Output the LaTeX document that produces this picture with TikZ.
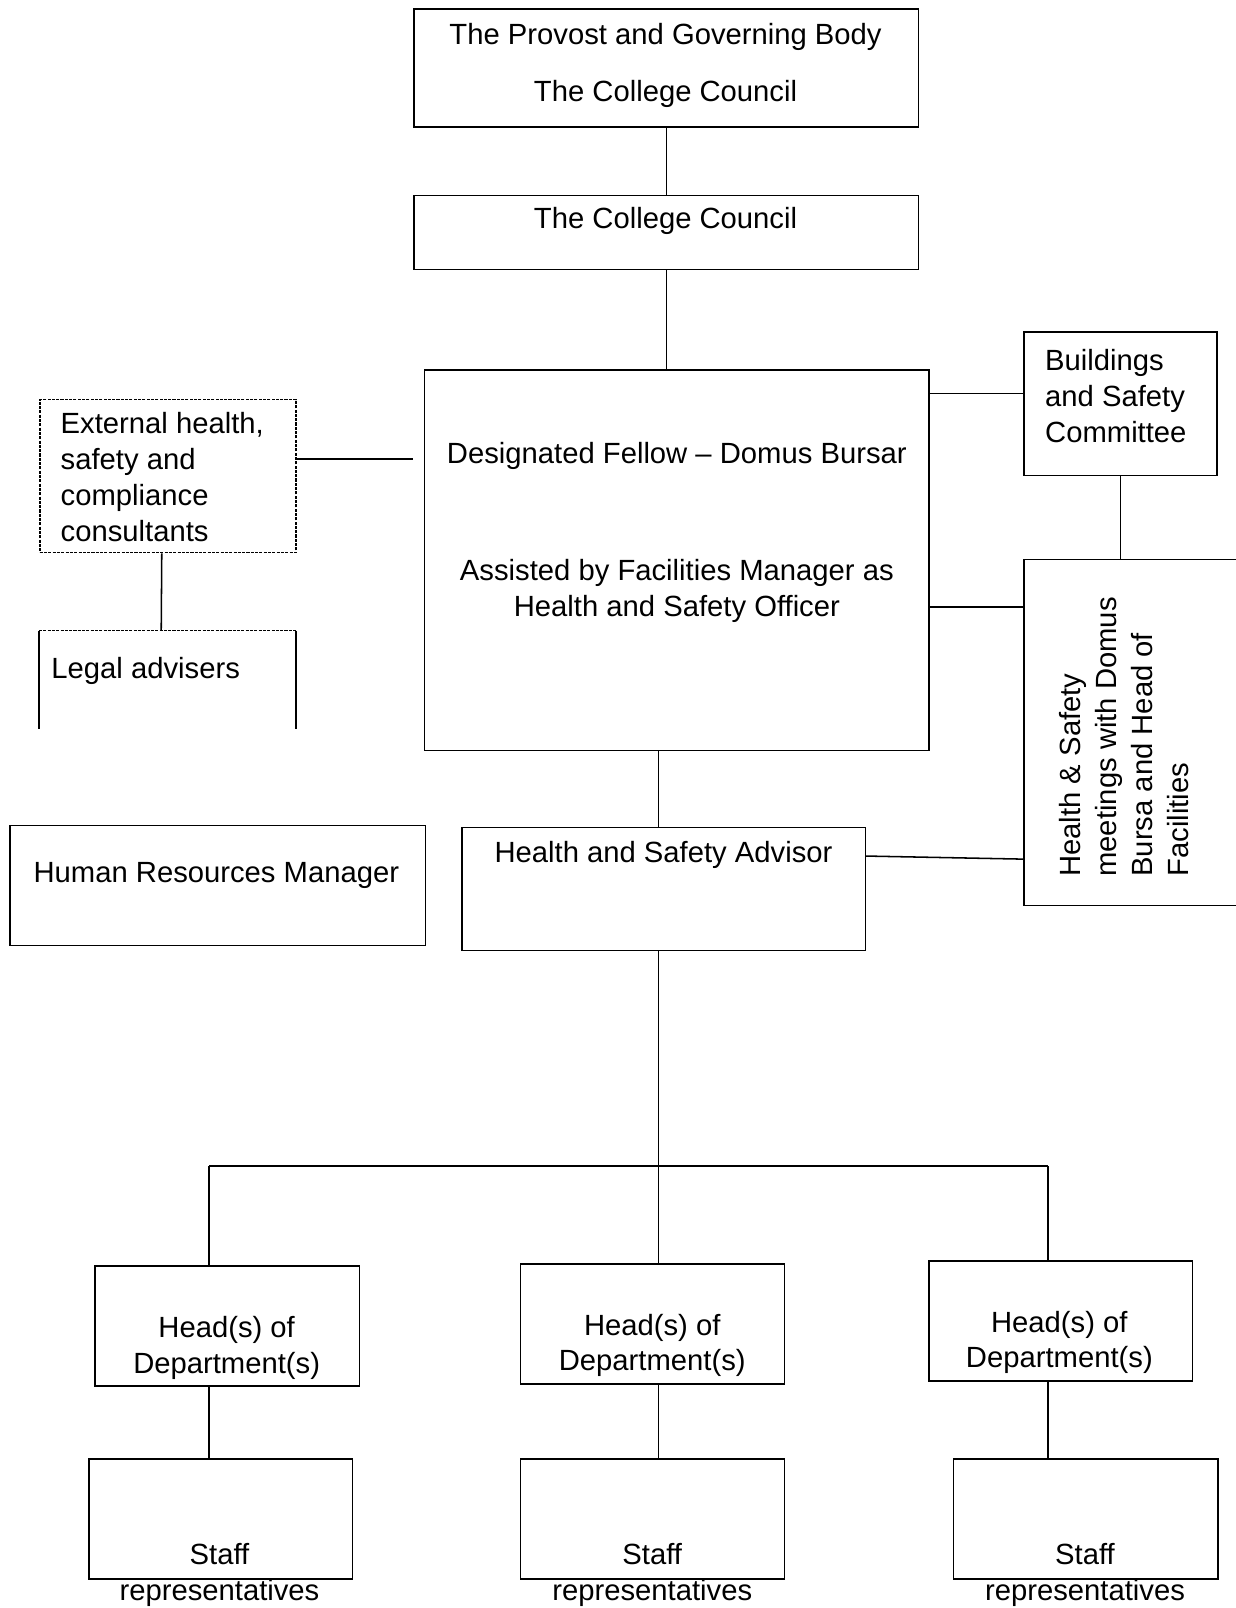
\documentclass[tikz,border=0pt]{standalone}
\usepackage{fontspec}
\setmainfont{Liberation Sans}
\usetikzlibrary{positioning}

\begin{document}
\begin{tikzpicture}[x=1pt,y=-1pt,
  box/.style={draw,line width=1.5pt,inner sep=0pt,anchor=north west},
  dotbox/.style={box,dash pattern=on 3pt off 1.2pt},
  txt/.style={inner sep=0pt,align=center},
  link/.style={line width=1.5pt}]
\fontsize{28.5}{35}\selectfont
\useasboundingbox (0,0) rectangle (1205,1568);

% boxes
\node[box,minimum width=492pt,minimum height=115pt] (prov) at (403,8) {};
\node[box,minimum width=492pt,minimum height=72pt] (council) at (403,190) {};
\node[box,minimum width=492pt,minimum height=371pt] (fellow) at (413,360) {};
\node[dotbox,minimum width=250pt,minimum height=149pt] (ext) at (38,389) {};
\node[inner sep=0pt,anchor=north west,minimum width=250pt,minimum height=95pt] (legal) at (38,615) {};
\node[box,minimum width=188pt,minimum height=140pt] (bsc) at (998,323) {};
\node[box,minimum width=220pt,minimum height=337pt] (hsm) at (998,545) {};
\node[box,minimum width=393pt,minimum height=120pt] (hsa) at (450,806) {};
\node[box,minimum width=405pt,minimum height=117pt] (hr) at (9,804) {};
\node[box,minimum width=258pt,minimum height=117pt] (hod1) at (92,1234) {};
\node[box,minimum width=257pt,minimum height=117pt] (hod2) at (507,1232) {};
\node[box,minimum width=257pt,minimum height=117pt] (hod3) at (905,1229) {};
\node[box,minimum width=257pt,minimum height=117pt] (staff1) at (86,1422) {};
\node[box,minimum width=257pt,minimum height=117pt] (staff2) at (507,1422) {};
\node[box,minimum width=258pt,minimum height=117pt] (staff3) at (929,1422) {};

% texts
\node[txt] (provT) at (649,64) {The Provost and Governing Body\\[21pt]The College Council};
\node[txt] (councilT) at (649,215) {The College Council};
\node[txt] (fellowT1) at (660,445) {Designated Fellow \textendash{} Domus Bursar};
\node[txt] (fellowT2) at (660,576) {Assisted by Facilities Manager as\\Health and Safety Officer};
\node[txt,align=left,anchor=west] (extT) at (59,465) {External health,\\safety and\\compliance\\consultants};
\node[txt,anchor=west] (legalT) at (50,654) {Legal advisers};
\node[txt,align=left,anchor=west] (bscT) at (1019,386) {Buildings\\and Safety\\Committee};
\node[txt,align=left,rotate=90,anchor=west] (hsmT) at (1096,855) {Health \& Safety\\meetings with Domus\\Bursa and Head of\\Facilities};
\node[txt] (hsaT) at (647,834) {Health and Safety Advisor};
\node[txt] (hrT) at (211,854) {Human Resources Manager};
\node[txt] (hodT1) at (221,1314) {Head(s) of\\Department(s)};
\node[txt] (hodT2) at (636,1312) {Head(s) of\\Department(s)};
\node[txt] (hodT3) at (1033,1309) {Head(s) of\\Department(s)};
\node[txt] (staffT1) at (214,1536) {Staff\\representatives};
\node[txt] (staffT2) at (636,1536) {Staff\\representatives};
\node[txt] (staffT3) at (1058,1536) {Staff\\representatives};

% legal advisers: open box
\draw[link,dash pattern=on 3pt off 1.2pt] (legal.north west) -- (legal.north east);
\draw[link] (legal.north west) -- (legal.south west);
\draw[link] (legal.north east) -- (legal.south east);

% connectors
\coordinate (trunk) at (642,1137);
\coordinate (busL) at (204,1137);
\coordinate (busR) at (1022,1137);
\draw[link] (prov.south) -- (council.north);
\draw[link] (council.south) -- (council.south |- fellow.north);
\draw[link,shorten >=10pt] ([yshift=16.5pt]ext.east) -- ([yshift=16.5pt]ext.east -| fellow.west);
\draw[link] ([xshift=-6pt]ext.south) -- ([xshift=-6pt]legal.north);
\draw[link] ([yshift=10pt]bsc.west) -- ([yshift=10pt]bsc.west -| fellow.east);
\draw[link] (bsc.south) -- (bsc.south |- hsm.north);
\draw[link] ([yshift=-45.5pt]fellow.east) -- ([yshift=-45.5pt]fellow.east -| hsm.west);
\draw[link] ([yshift=32pt]hsa.east) -- ([yshift=-123.5pt]hsm.west);
\draw[link] (fellow.south -| trunk) -- (hsa.north -| trunk);
\draw[link] (hsa.south -| trunk) -- (trunk);
\draw[link] (busL) -- (busR);
\draw[link] (busL) -- (busL |- hod1.north);
\draw[link] (trunk) -- (trunk |- hod2.north);
\draw[link] (busR) -- (busR |- hod3.north);
\draw[link] (busL |- hod1.south) -- (busL |- staff1.north);
\draw[link] (trunk |- hod2.south) -- (trunk |- staff2.north);
\draw[link] (busR |- hod3.south) -- (busR |- staff3.north);
\end{tikzpicture}
\end{document}
